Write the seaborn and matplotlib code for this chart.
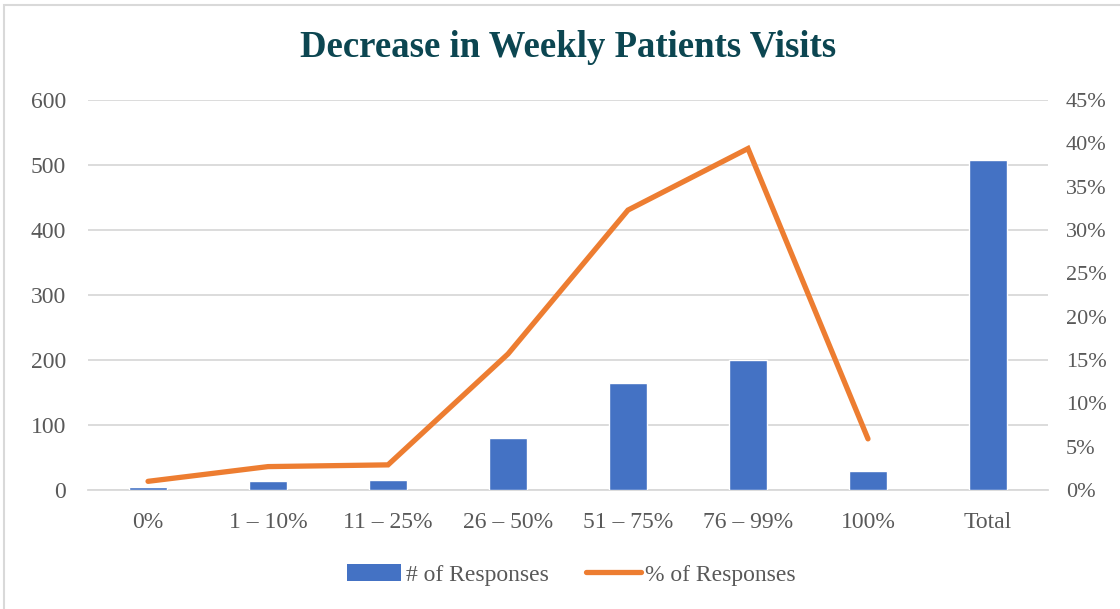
import matplotlib
matplotlib.use("Agg")
import matplotlib.pyplot as plt
from matplotlib.patches import Rectangle, Patch
from matplotlib.lines import Line2D
from matplotlib.ticker import FuncFormatter
import seaborn as sns
import pandas as pd

categories = ["0%", "1 \u2013 10%", "11 \u2013 25%", "26 \u2013 50%", "51 \u2013 75%",
              "76 \u2013 99%", "100%", "Total"]
responses = [5, 14, 15, 80, 164, 200, 30, 508]
pct_categories = categories[:7]
pct_responses = [1.0, 2.7, 2.9, 15.7, 32.3, 39.4, 5.9]

bar_color = "#4472C4"
line_color = "#ED7D31"
text_color = "#595959"
grid_color = "#D9D9D9"

sns.set_style("white")
plt.rcParams["font.family"] = ["Liberation Serif", "DejaVu Serif"]

fig = plt.figure(figsize=(11.2, 6.09), dpi=100)
ax = fig.add_axes([0.0786, 0.1954, 0.8571, 0.6404])

df = pd.DataFrame({"cat": categories, "n": responses})
sns.barplot(data=df, x="cat", y="n", color=bar_color, saturation=1,
            width=0.32, ax=ax, zorder=3)
ax.set_xlim(-0.5, 7.5)
ax.set_ylim(0, 600)
ax.set_yticks(range(0, 601, 100))
ax.set_xlabel("")
ax.set_ylabel("")
ax.grid(axis="y", color=grid_color, linewidth=1.3, zorder=0)
ax.set_axisbelow(True)
for s in ["top", "right", "left"]:
    ax.spines[s].set_visible(False)
ax.spines["bottom"].set_color(grid_color)
ax.spines["bottom"].set_linewidth(1.3)
ax.tick_params(axis="both", length=0, labelsize=17, labelcolor=text_color)
ax.tick_params(axis="x", pad=16)
ax.tick_params(axis="y", pad=16)

ax2 = ax.twinx()
pdf = pd.DataFrame({"pos": list(range(len(pct_categories))), "pct": pct_responses})
sns.lineplot(data=pdf, x="pos", y="pct", color=line_color, linewidth=3.8,
             sort=False, ax=ax2, solid_capstyle="round", solid_joinstyle="miter")
ax2.set_ylim(0, 45)
ax2.set_yticks(range(0, 46, 5))
ax2.yaxis.set_major_formatter(FuncFormatter(lambda v, p: f"{v:.0f}%"))
ax2.set_ylabel("")
ax2.set_xlabel("")
for s in ["top", "right", "left", "bottom"]:
    ax2.spines[s].set_visible(False)
ax2.tick_params(axis="y", length=0, labelsize=16, labelcolor=text_color, pad=13)
ax2.set_xlim(-0.5, 7.5)

fig.text(0.507, 0.922, "Decrease in Weekly Patients Visits", ha="center", va="center",
         fontsize=26.5, fontweight="bold", color="#0C4651")

handles = [Patch(facecolor=bar_color, edgecolor="none"),
           Line2D([0], [0], color=line_color, linewidth=3.8, solid_capstyle="round")]
fig.legend(handles, ["# of Responses", "% of Responses"], loc="center",
           bbox_to_anchor=(0.51, 0.056), ncol=2, frameon=False, fontsize=17,
           labelcolor=text_color, handlelength=2.3, handletextpad=0.2,
           columnspacing=1.6)

fig.patches.append(Rectangle((4 / 1120, -0.05), 1.2, 1.05 - 5 / 609,
                             transform=fig.transFigure, fill=False,
                             edgecolor=grid_color, linewidth=1.5))

fig.savefig("out.png", dpi=100)
